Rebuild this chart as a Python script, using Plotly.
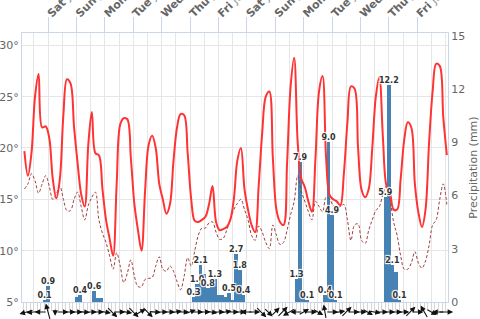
import math
import plotly.graph_objects as go

# ---------------- data ----------------
hours = list(range(-20, 338, 3))  # hours relative to Sat 00:00

temperature = [
    19.7, 17.3, 19.5, 25.0, 27.2, 22.0, 22.1, 21.0,
    17.0, 15.1, 17.0, 23.3, 26.7, 26.3, 22.0, 18.5,
    15.5, 14.3, 20.3, 23.5, 19.5, 19.3, 16.0, 13.0,
    11.2, 9.5, 16.5, 22.3, 22.9, 22.8, 19.0, 14.5,
    12.0, 10.0, 15.8, 20.3, 21.2, 20.0, 16.5, 15.0,
    13.6, 14.5, 18.7, 22.0, 23.3, 23.2, 19.5, 15.0,
    12.9, 12.8, 13.0, 13.3, 14.5, 16.3, 12.8, 12.0,
    12.1, 12.3, 13.0, 15.0, 18.8, 20.0, 16.0, 14.0,
    12.5, 11.8, 16.3, 21.5, 25.0, 25.5, 19.0, 14.0,
    12.8, 12.5, 18.5, 26.0, 28.8, 20.5, 17.0, 16.2,
    14.8, 13.8, 19.0, 25.5, 27.0, 19.0, 15.4, 15.0,
    14.8, 14.4, 17.5, 22.5, 26.0, 25.8, 20.0, 15.9,
    15.2, 16.0, 20.0, 25.0, 26.9, 21.0, 16.3, 15.6,
    14.0, 14.0, 17.0, 20.8, 22.5, 22.0, 16.5, 13.7,
    12.3, 14.0, 20.5, 25.5, 28.2, 28.0, 23.0, 19.3,
]

dew_point = [
    16.0, 16.5, 17.5, 16.8, 15.6, 16.5, 17.3, 16.3,
    15.0, 15.5, 16.3, 15.0, 13.9, 13.9, 15.0, 15.7,
    14.3, 13.0, 14.4, 15.2, 15.7, 13.0, 11.7, 10.8,
    9.5, 8.2, 9.8, 8.5, 6.9, 7.8, 9.1, 7.5,
    6.5, 6.5, 7.2, 7.3, 7.4, 8.5, 9.4, 8.2,
    8.0, 8.5, 8.0, 7.0, 6.2, 7.5, 9.3, 8.5,
    10.0, 11.5, 12.2, 12.2, 12.7, 12.8, 11.8, 11.1,
    11.2, 12.0, 13.0, 14.0, 14.6, 15.0, 14.0, 13.0,
    11.5, 11.0, 12.4, 11.8, 10.8, 10.2, 12.5, 11.5,
    10.6, 10.8, 12.0, 13.5, 14.8, 17.3, 15.8, 14.8,
    13.8, 13.0, 14.8, 14.3, 13.8, 15.2, 15.0, 14.4,
    14.2, 14.3, 14.5, 13.0, 11.0, 12.5, 12.6, 11.0,
    10.7, 12.0, 13.0, 13.9, 14.3, 15.5, 16.3, 15.0,
    12.8, 11.5, 9.5, 8.2, 8.2, 8.8, 9.9, 8.8,
    8.3, 9.0, 10.5, 12.5, 13.0, 15.0, 16.5, 14.5,
]

precip_hours = [-3, 0, 24, 27, 39, 42, 45,
                123, 126, 129, 132, 135, 138, 141, 144, 147, 150, 153, 156, 159, 162, 165,
                210, 213, 216, 219,
                234, 237, 240, 243,
                285, 288, 291, 294, 297]
precip_mm = [0.1, 0.9, 0.3, 0.4, 0.6, 0.2, 0.2,
             0.3, 1.0, 2.1, 1.6, 0.8, 1.0, 1.3, 0.4, 0.4, 0.3, 0.5, 0.1, 2.7, 1.8, 0.4,
             1.3, 7.9, 0.5, 0.1,
             0.4, 9.0, 4.9, 0.1,
             5.9, 12.2, 2.1, 1.7, 0.1]
precip_shown = [True, True, False, True, True, False, False,
                True, True, True, False, True, False, True, False, False, False, True, False, True, True, True,
                True, True, False, True,
                True, True, True, True,
                True, True, True, False, True]

day_hours = list(range(0, 313, 24))
day_names = ["Sat", "Sun", "Mon", "Tue", "Wed", "Thu", "Fri",
             "Sat", "Sun", "Mon", "Tue", "Wed", "Thu", "Fri"]
day_dates = ["Jul 1", "Jul 2", "Jul 3", "Jul 4", "Jul 5", "Jul 6", "Jul 7",
             "Jul 8", "Jul 9", "Jul 10", "Jul 11", "Jul 12", "Jul 13", "Jul 14"]

temp_ticks = [5, 10, 15, 20, 25, 30]
precip_ticks = [0, 3, 6, 9, 12, 15]

# wind every 6 hours: direction the wind blows FROM (deg) and speed (m/s)
wind_hours = list(range(-18, 337, 6))
wind_from_deg = [
    75, 85, 90, 165, 0, 270, 270, 270,
    275, 270, 270, 280, 315, 270, 280, 315,
    240, 315, 275, 270, 270, 260, 270, 250,
    270, 270, 280, 270, 260, 270, 270, 90,
    270, 315, 315, 225, 225, 60, 90, 240,
    270, 300, 170, 270, 260, 225, 270, 270,
    300, 280, 270, 270, 270, 270, 225, 270,
    150, 300, 90, 270,
]
wind_speed = [
    6, 6, 5, 7, 3, 5, 5, 5,
    5, 5, 5, 5, 6, 5, 5, 6,
    5, 6, 5, 5, 5, 5, 5, 5,
    5, 5, 5, 5, 5, 5, 5, 5,
    5, 6, 5, 5, 6, 6, 5, 5,
    5, 5, 6, 5, 5, 6, 5, 5,
    5, 5, 5, 5, 5, 5, 6, 5,
    6, 5, 5, 6,
]

# ---------------- figure ----------------
fig = go.Figure()

fig.add_trace(go.Bar(
    x=precip_hours, y=precip_mm, width=3,
    marker=dict(color="#4682b4", line=dict(width=0)),
    xaxis="x", yaxis="y", hoverinfo="skip",
))

fig.add_trace(go.Scatter(
    x=hours, y=dew_point, mode="lines",
    line=dict(color="#a04040", width=1, dash="3px,2px", shape="spline", smoothing=1),
    xaxis="x", yaxis="y2", hoverinfo="skip",
))
fig.add_trace(go.Scatter(
    x=hours, y=temperature, mode="lines",
    line=dict(color="#ff3333", width=2, shape="spline", smoothing=1),
    xaxis="x", yaxis="y2", hoverinfo="skip",
))

lab_x = [h for h, s in zip(precip_hours, precip_shown) if s]
lab_y = [v for v, s in zip(precip_mm, precip_shown) if s]
lab_t = [f"{v:.1f}" for v in lab_y]
fig.add_trace(go.Scatter(
    x=lab_x, y=lab_y, text=lab_t, mode="text", textposition="top center",
    textfont=dict(size=8, color="#333333", family="DejaVu Sans", weight="bold",
                  shadow="1px 1px 1px #fff, -1px -1px 1px #fff, 1px -1px 1px #fff, -1px 1px 1px #fff"),
    xaxis="x", yaxis="y3", hoverinfo="skip", cliponaxis=False,
))

# trace carrying the top day axis
fig.add_trace(go.Scatter(x=[day_hours[0]], y=[None], xaxis="x2", yaxis="y", showlegend=False,
                         hoverinfo="skip"))

# wind vectors below the plot
annotations = []
for h, d, s in zip(wind_hours, wind_from_deg, wind_speed):
    to = math.radians((d + 180) % 360)
    L = s * 2.5
    dx, dy = math.sin(to), -math.cos(to)  # screen direction (y down)
    annotations.append(dict(
        x=h, xref="x", y=0, yref="paper",
        xshift=L / 2 * dx, yshift=-10 - L / 2 * dy,
        text="", showarrow=True,
        ax=-L * dx, ay=-L * dy, axref="pixel", ayref="pixel",
        arrowhead=2, arrowsize=1, arrowwidth=1.1, arrowcolor="#111111", standoff=0,
    ))

grid = "#e6e6e6"
border = "#ccd6eb"

fig.update_layout(
    width=480, height=319,
    margin=dict(l=22, r=32, t=33, b=17, autoexpand=False),
    paper_bgcolor="white", plot_bgcolor="white",
    showlegend=False, bargap=0,
    font=dict(family="DejaVu Sans", color="#666666"),
    annotations=annotations,
    xaxis=dict(
        range=[-22, 338], tick0=0, dtick=12, showgrid=True, gridcolor=grid, gridwidth=1,
        showticklabels=False, ticks="outside", ticklen=8, tickcolor="#d6d6d6",
        minor=dict(dtick=3, tick0=0, ticks="outside", ticklen=8, tickcolor="#d6d6d6", showgrid=False),
        showline=True, linecolor=border, mirror=True, zeroline=False, anchor="y",
    ),
    xaxis2=dict(
        overlaying="x", side="top", anchor="y", range=[-22, 338],
        tickvals=day_hours,
        ticktext=[f"<b>{n}</b> <span style='color:#999'>{d}</span>" for n, d in zip(day_names, day_dates)],
        tickangle=-45, ticks="outside", ticklen=15, tickcolor=border,
        ticklabelstandoff=-7,
        tickfont=dict(size=11, color="#666666"), showgrid=False, zeroline=False,
    ),
    yaxis=dict(
        range=[0, 15.15], side="right", tickvals=precip_ticks, showgrid=False,
        zeroline=False, ticks="", ticklen=0,
        tickfont=dict(size=11, color="#666666"),
        title=dict(text="Precipitation (mm)", font=dict(size=11, color="#666666"), standoff=6),
        showline=True, linecolor=border, anchor="x",
    ),
    yaxis2=dict(
        overlaying="y", side="left", range=[5, 31.2], tickvals=temp_ticks,
        ticktext=[f"{t}°" for t in temp_ticks], showgrid=True, gridcolor=grid,
        zeroline=False, tickfont=dict(size=11, color="#666666"),
        showline=True, linecolor=border, anchor="x",
    ),
    yaxis3=dict(overlaying="y", range=[0, 15.15], visible=False, anchor="x"),
)

fig.write_html("out.html")
